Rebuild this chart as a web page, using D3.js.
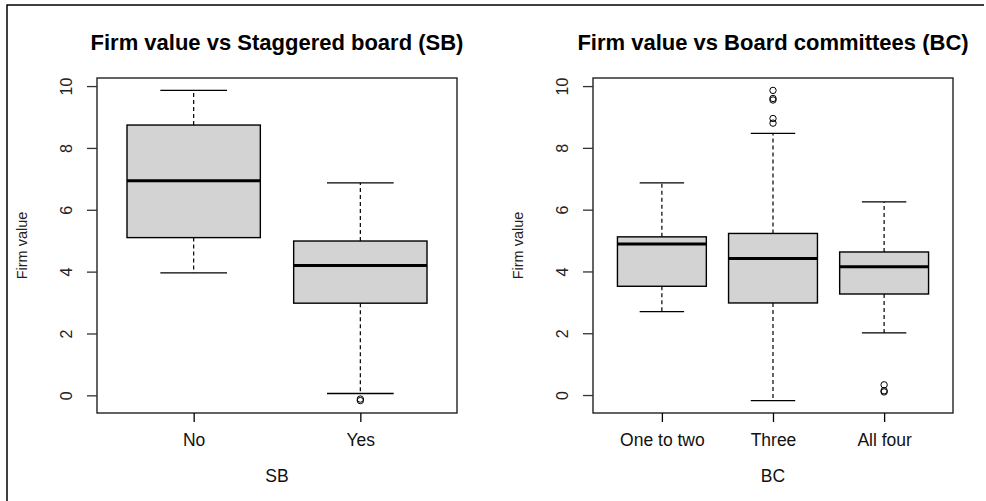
<!DOCTYPE html>
<html>
<head>
<meta charset="utf-8">
<script src="https://cdn.jsdelivr.net/npm/d3@7"></script>
<style>
  html, body { margin: 0; padding: 0; background: #fff; }
  svg { display: block; font-family: "Liberation Sans", Arial, sans-serif; }
</style>
</head>
<body>
<svg id="chart" width="986" height="501"></svg>
<script>
// Staggered board (SB) groups: five-number summaries and outliers
const sbCategories = ["No", "Yes"];
const sbLower  = [3.96, 0.06];
const sbQ1     = [5.10, 2.98];
const sbMedian = [6.94, 4.20];
const sbQ3     = [8.74, 4.99];
const sbUpper  = [9.86, 6.87];
const sbOutliers = [[], [-0.12, -0.17]];

// Board committees (BC) groups
const bcCategories = ["One to two", "Three", "All four"];
const bcLower  = [2.70, -0.18, 2.01];
const bcQ1     = [3.52, 2.98, 3.27];
const bcMedian = [4.89, 4.42, 4.15];
const bcQ3     = [5.12, 5.23, 4.63];
const bcUpper  = [6.87, 8.47, 6.25];
const bcOutliers = [[], [9.86, 9.60, 9.55, 8.95, 8.80], [0.33, 0.14, 0.10]];

const yTicks = [0, 2, 4, 6, 8, 10];

const svg = d3.select("#chart");

// outer frame (left and top edges)
svg.append("path")
  .attr("d", "M7,501 L7,5 L984,5")
  .attr("fill", "none")
  .attr("stroke", "#000")
  .attr("stroke-width", 1.5);

function boxPanel(opts) {
  const { x0, x1, y0, y1, title, xLabel, cats, lower, q1, med, q3, upper, outliers } = opts;
  const g = svg.append("g");
  const n = cats.length;

  const allVals = [].concat(lower, upper, ...outliers);
  const lo = d3.min(allVals), hi = d3.max(allVals);
  const pad = (hi - lo) * 0.04;
  const y = d3.scaleLinear().domain([lo - pad, hi + pad]).range([y1, y0]);
  const x = d3.scalePoint().domain(cats).range([x0, x1]).padding(0.5 + 0.04 * n);
  const step = x.step();
  const bw = 0.4 * step, cw = 0.2 * step;

  const rows = cats.map((c, i) => ({ c, lo: lower[i], q1: q1[i], md: med[i], q3: q3[i], hi: upper[i], out: outliers[i] }));

  const box = g.selectAll("g.box").data(rows).join("g").attr("class", "box");

  // whiskers
  box.append("line")
    .attr("x1", d => x(d.c)).attr("x2", d => x(d.c))
    .attr("y1", d => y(d.q3)).attr("y2", d => y(d.hi))
    .attr("stroke", "#000").attr("stroke-width", 1.2).attr("stroke-dasharray", "4,3");
  box.append("line")
    .attr("x1", d => x(d.c)).attr("x2", d => x(d.c))
    .attr("y1", d => y(d.q1)).attr("y2", d => y(d.lo))
    .attr("stroke", "#000").attr("stroke-width", 1.2).attr("stroke-dasharray", "4,3");
  // caps
  box.append("line")
    .attr("x1", d => x(d.c) - cw).attr("x2", d => x(d.c) + cw)
    .attr("y1", d => y(d.hi)).attr("y2", d => y(d.hi))
    .attr("stroke", "#000").attr("stroke-width", 1.3);
  box.append("line")
    .attr("x1", d => x(d.c) - cw).attr("x2", d => x(d.c) + cw)
    .attr("y1", d => y(d.lo)).attr("y2", d => y(d.lo))
    .attr("stroke", "#000").attr("stroke-width", 1.3);
  // boxes
  box.append("rect")
    .attr("x", d => x(d.c) - bw).attr("width", 2 * bw)
    .attr("y", d => y(d.q3)).attr("height", d => y(d.q1) - y(d.q3))
    .attr("fill", "#d3d3d3").attr("stroke", "#000").attr("stroke-width", 1.4);
  // medians
  box.append("line")
    .attr("x1", d => x(d.c) - bw).attr("x2", d => x(d.c) + bw)
    .attr("y1", d => y(d.md)).attr("y2", d => y(d.md))
    .attr("stroke", "#000").attr("stroke-width", 3);
  // outliers
  box.selectAll("circle").data(d => d.out.map(v => ({ c: d.c, v }))).join("circle")
    .attr("cx", d => x(d.c)).attr("cy", d => y(d.v)).attr("r", 3.2)
    .attr("fill", "none").attr("stroke", "#000").attr("stroke-width", 1);

  // plot frame
  g.append("rect")
    .attr("x", x0).attr("y", y0).attr("width", x1 - x0).attr("height", y1 - y0)
    .attr("fill", "none").attr("stroke", "#222").attr("stroke-width", 1.4);

  // y axis
  const ya = g.append("g").attr("transform", `translate(${x0},0)`)
    .call(d3.axisLeft(y).tickValues(yTicks).tickSize(10).tickPadding(0).tickFormat(d3.format("d")));
  ya.select(".domain").remove();
  ya.selectAll(".tick line").attr("stroke", "#333").attr("stroke-width", 1.3);
  ya.selectAll(".tick text")
    .attr("transform", "rotate(-90)")
    .attr("x", 0).attr("y", -25).attr("dy", 0)
    .attr("text-anchor", "middle")
    .attr("fill", "#222")
    .style("font-size", "16px");

  // x axis
  const xa = g.append("g").attr("transform", `translate(0,${y1})`)
    .call(d3.axisBottom(x).tickSize(9).tickPadding(0));
  xa.select(".domain").remove();
  xa.selectAll(".tick line").attr("stroke", "#000").attr("stroke-width", 1.3);
  xa.selectAll(".tick text")
    .attr("y", 33).attr("dy", 0)
    .attr("fill", "#111")
    .style("font-size", "17.5px");

  const cx = (x0 + x1) / 2;
  // title
  g.append("text")
    .attr("x", cx).attr("y", 50)
    .attr("text-anchor", "middle")
    .style("font-size", "22px").style("font-weight", "bold")
    .attr("fill", "#000")
    .text(title);
  // x label
  g.append("text")
    .attr("x", cx).attr("y", 482)
    .attr("text-anchor", "middle")
    .style("font-size", "17.5px")
    .attr("fill", "#111")
    .text(xLabel);
  // y label
  g.append("text")
    .attr("transform", `translate(${x0 - 70},${(y0 + y1) / 2}) rotate(-90)`)
    .attr("text-anchor", "middle")
    .style("font-size", "14.5px")
    .attr("fill", "#222")
    .text("Firm value");
}

boxPanel({
  x0: 97, x1: 457, y0: 78, y1: 413,
  title: "Firm value vs Staggered board (SB)", xLabel: "SB",
  cats: sbCategories, lower: sbLower, q1: sbQ1, med: sbMedian, q3: sbQ3, upper: sbUpper, outliers: sbOutliers
});

boxPanel({
  x0: 593, x1: 953, y0: 78, y1: 413,
  title: "Firm value vs Board committees (BC)", xLabel: "BC",
  cats: bcCategories, lower: bcLower, q1: bcQ1, med: bcMedian, q3: bcQ3, upper: bcUpper, outliers: bcOutliers
});
</script>
</body>
</html>
